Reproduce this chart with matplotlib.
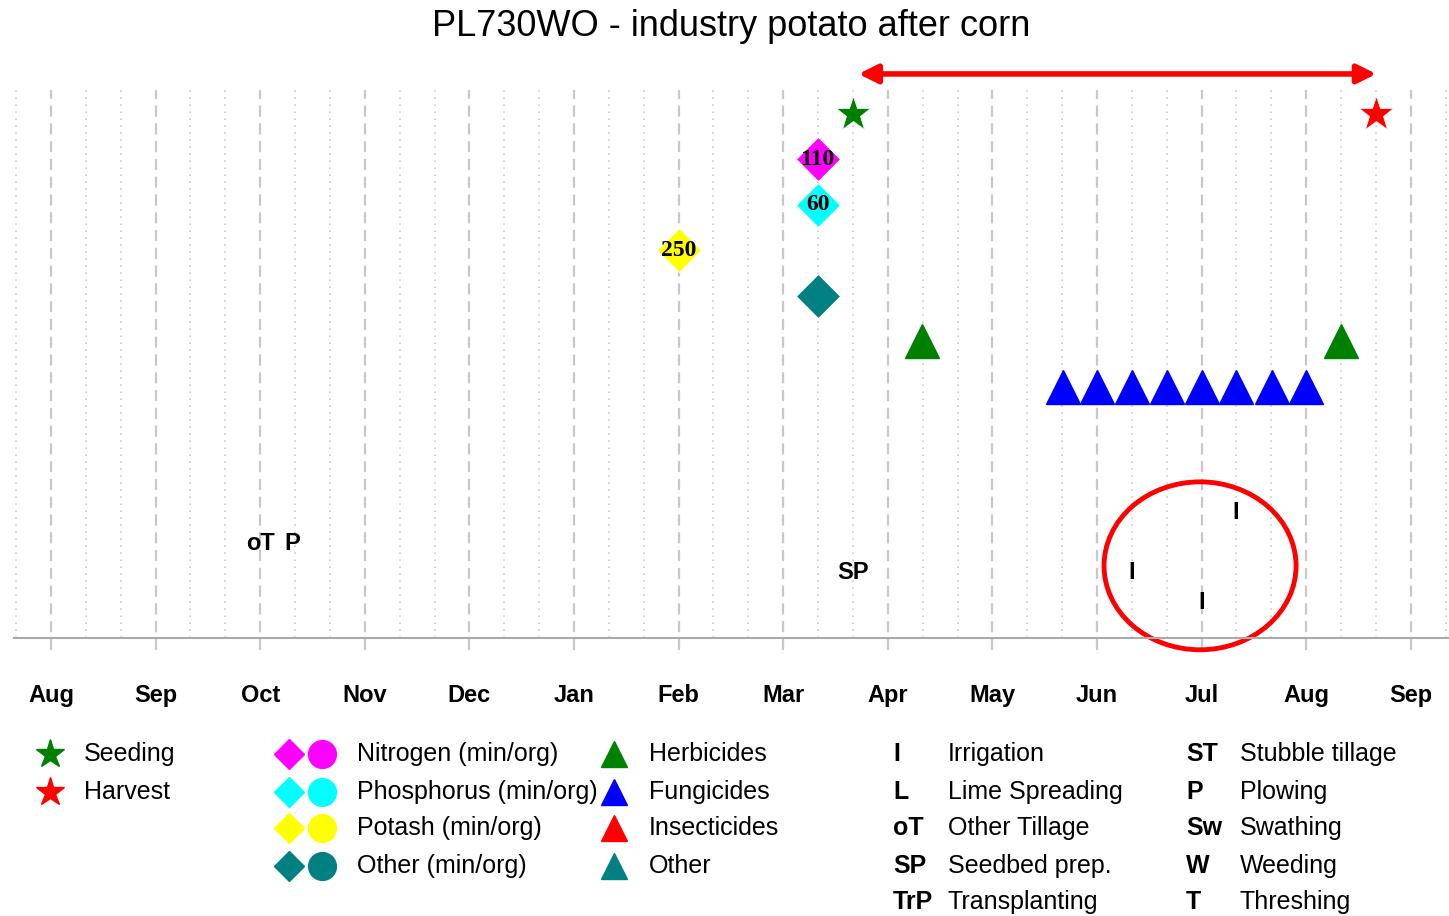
import matplotlib
matplotlib.use("Agg")
import matplotlib.pyplot as plt
from matplotlib.patches import Ellipse

plt.rcParams['font.family'] = ['Liberation Sans', 'DejaVu Sans']

# x positions are months counted from 1 Aug of the first year
months = ['Aug', 'Sep', 'Oct', 'Nov', 'Dec', 'Jan', 'Feb', 'Mar',
          'Apr', 'May', 'Jun', 'Jul', 'Aug', 'Sep']

seeding_x = 7.67
harvest_x = 12.67

fert_names = ['N', 'P', 'K', 'Other']
fert_x = [7.33, 7.33, 6.0, 7.33]
fert_rows = [1, 2, 3, 4]
fert_labels = ['110', '60', '250', '']
fert_colors = ['#ff00ff', '#00ffff', '#ffff00', '#008080']

herbicide_x = [8.33, 12.33]
herbicide_row = 5
fungicide_x = [9.67, 10.0, 10.33, 10.67, 11.0, 11.33, 11.67, 12.0]
fungicide_row = 6

ops_text = ['I', 'I', 'I', 'oT', 'P', 'SP']
ops_x = [11.33, 10.33, 11.0, 2.0, 2.31, 7.67]
ops_row = [8.75, 10.07, 10.73, 9.43, 9.43, 10.07]

fig = plt.figure(figsize=(14.49, 9.16), dpi=100)
ax = fig.add_axes([14 / 1449, 1 - 638 / 916, 1 - 14 / 1449, 548 / 916])
ax.set_xlim(-0.354, 13.365)
ax.set_ylim(11.516, -0.527)

# grid: dashed at month starts, dotted at the decades
for i in range(len(months)):
    ax.axvline(i, ymin=-12 / 548, ymax=1, color='#c8c8c8', lw=1.6,
               ls=(0, (5, 3)), clip_on=False, zorder=0)
for i in range(-1, len(months)):
    for f in (1 / 3, 2 / 3):
        if -0.36 < i + f < 13.37:
            ax.axvline(i + f, color='#cccccc', lw=1.2, ls=(0, (1, 3.2)), zorder=0)

for s in ['top', 'right', 'left']:
    ax.spines[s].set_visible(False)
ax.spines['bottom'].set_color('#aaaaaa')
ax.spines['bottom'].set_linewidth(1.5)
ax.set_yticks([])
ax.set_xticks(range(len(months)))
ax.set_xticklabels(months, fontsize=17, fontweight='bold')
ax.tick_params(axis='x', length=0, pad=33)

# seeding / harvest
ax.plot(seeding_x, 0, marker='*', ms=26, color='#008000', mec='white', mew=0.5, ls='none')
ax.plot(harvest_x, 0, marker='*', ms=26, color='#ff0000', mec='white', mew=0.5, ls='none')
ax.annotate('', xy=(harvest_x, -0.88), xytext=(seeding_x + 0.05, -0.88),
            arrowprops=dict(arrowstyle='<|-|>', color='#ff0000', lw=4,
                            mutation_scale=28, shrinkA=0, shrinkB=0),
            annotation_clip=False)

# fertilisers
for x, r, lab, c in zip(fert_x, fert_rows, fert_labels, fert_colors):
    ax.plot(x, r, marker='D', ms=22, color=c, mec='white', mew=0.6, ls='none')
    if lab:
        ax.text(x, r, lab, ha='center', va='center', fontsize=17,
                fontweight='bold', family='Liberation Serif')

# pesticides
ax.plot(herbicide_x, [herbicide_row] * len(herbicide_x), marker='^', ms=25,
        color='#008000', ls='none')
ax.plot(fungicide_x, [fungicide_row] * len(fungicide_x), marker='^', ms=25,
        color='#0000ff', ls='none')

# operations
for t, x, r in zip(ops_text, ops_x, ops_row):
    ax.text(x, r, t, ha='center', va='center', fontsize=17, fontweight='bold')

ax.add_patch(Ellipse((10.985, 9.93), 1.836, 3.69, fill=False, ec='#ff0000',
                     lw=3.5, clip_on=False))

fig.text(731 / 1449, 1 - 26 / 916, 'PL730WO - industry potato after corn',
         ha='center', va='center', fontsize=26)

# legend drawn in pixel coordinates
lax = fig.add_axes([0, 0, 1, 216 / 916])
lax.set_xlim(0, 1449)
lax.set_ylim(916, 700)
lax.axis('off')

rows_y = [754, 792, 828, 866, 902]
fs = 18

lax.plot(50, rows_y[0], marker='*', ms=21, color='#008000', ls='none')
lax.plot(50, rows_y[1], marker='*', ms=21, color='#ff0000', ls='none')
for y, t in zip(rows_y, ['Seeding', 'Harvest']):
    lax.text(84, y, t, va='center', fontsize=fs)

fert_legend = ['Nitrogen (min/org)', 'Phosphorus (min/org)', 'Potash (min/org)', 'Other (min/org)']
for y, t, c in zip(rows_y, fert_legend, fert_colors):
    lax.plot(289, y, marker='D', ms=15, color=c, ls='none')
    lax.plot(322, y, marker='o', ms=20, color=c, ls='none')
    lax.text(357, y, t, va='center', fontsize=fs)

pest_legend = ['Herbicides', 'Fungicides', 'Insecticides', 'Other']
pest_colors = ['#008000', '#0000ff', '#ff0000', '#008080']
for y, t, c in zip(rows_y, pest_legend, pest_colors):
    lax.plot(614, y, marker='^', ms=19, color=c, ls='none')
    lax.text(649, y, t, va='center', fontsize=fs)

op_codes1 = ['I', 'L', 'oT', 'SP', 'TrP']
op_names1 = ['Irrigation', 'Lime Spreading', 'Other Tillage', 'Seedbed prep.', 'Transplanting']
op_codes2 = ['ST', 'P', 'Sw', 'W', 'T']
op_names2 = ['Stubble tillage', 'Plowing', 'Swathing', 'Weeding', 'Threshing']
for y, c, n in zip(rows_y, op_codes1, op_names1):
    lax.text(893, y, c, va='center', fontsize=fs, fontweight='bold')
    lax.text(948, y, n, va='center', fontsize=fs)
for y, c, n in zip(rows_y, op_codes2, op_names2):
    lax.text(1186, y, c, va='center', fontsize=fs, fontweight='bold')
    lax.text(1240, y, n, va='center', fontsize=fs)

fig.savefig('out.png', dpi=100)
